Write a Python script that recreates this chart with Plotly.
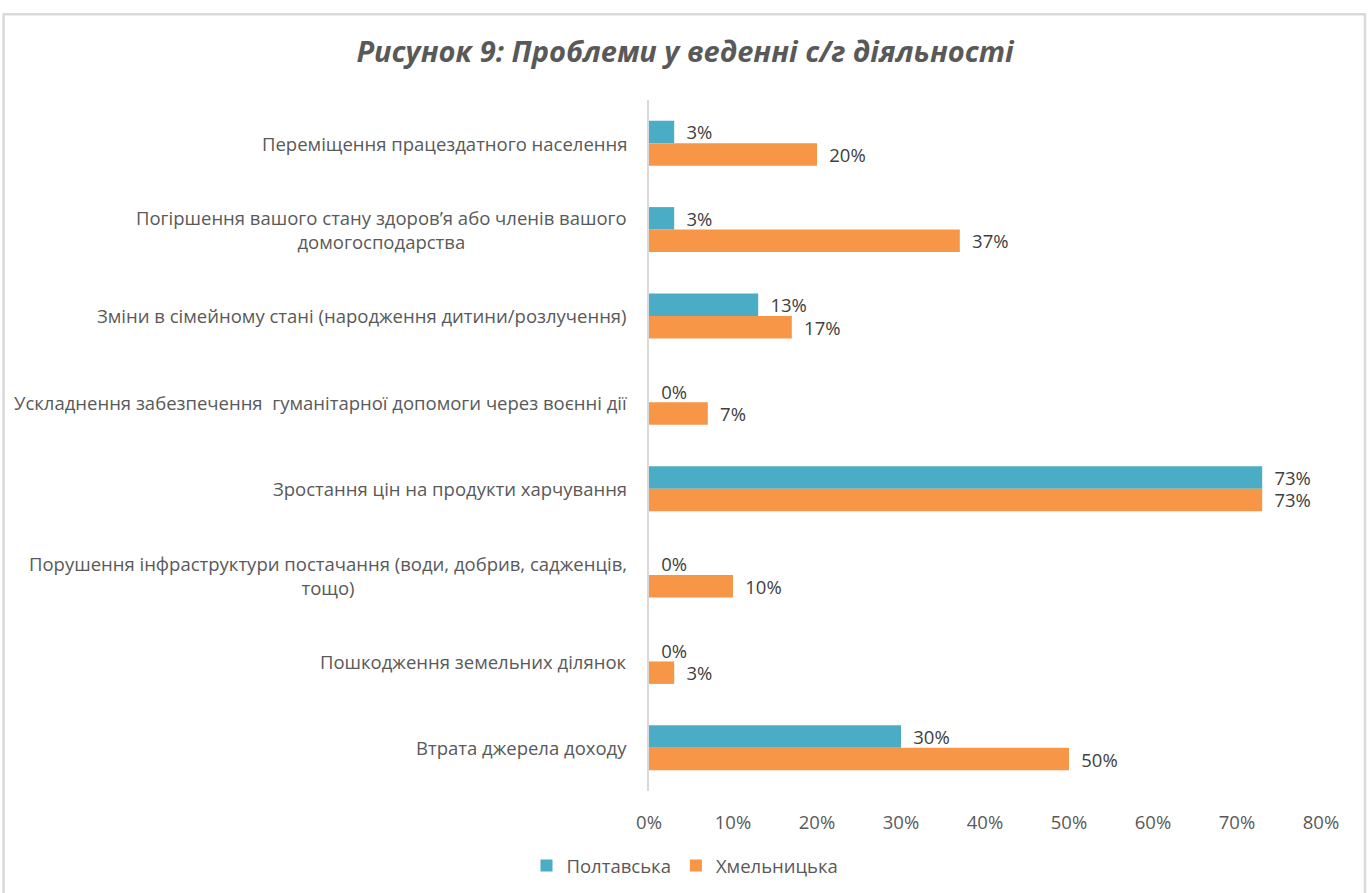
import plotly.graph_objects as go

categories = [
    "Переміщення працездатного населення",
    "Погіршення вашого стану здоров’я або членів вашого<br>домогосподарства",
    "Зміни в сімейному стані (народження дитини/розлучення)",
    "Ускладнення забезпечення  гуманітарної допомоги через воєнні дії",
    "Зростання цін на продукти харчування",
    "Порушення інфраструктури постачання (води, добрив, саджeнців,<br>тощо)",
    "Пошкодження земельних ділянок",
    "Втрата джерела доходу",
]
poltavska = [3, 3, 13, 0, 73, 0, 0, 30]
khmelnytska = [20, 37, 17, 7, 73, 10, 3, 50]
series_names = ["Полтавська", "Хмельницька"]
colors = ["#4BACC6", "#F79646"]
tick_vals = [0, 10, 20, 30, 40, 50, 60, 70, 80]
tick_text = [f"{v}%" for v in tick_vals]

FONT = "Open Sans, sans-serif"
TXT = "#595959"

W, H = 1370, 893

fig = go.Figure()
for name, vals, col in zip(series_names, [poltavska, khmelnytska], colors):
    fig.add_trace(go.Bar(
        y=categories, x=vals, name=name, orientation="h",
        marker=dict(color=col, line=dict(width=0)),
        text=[f"\u2002{v}%" for v in vals], textposition="outside",
        constraintext="none",
        textfont=dict(family=FONT, size=18.5, color="#404040"),
        cliponaxis=False,
    ))

for c in categories:
    fig.add_annotation(
        x=0, xref="paper", y=c, yref="y", text=c, showarrow=False,
        xanchor="right", yanchor="middle", align="center", xshift=-20,
        font=dict(family=FONT, size=18.5, color=TXT),
    )

# chart frame
fig.add_shape(type="rect", xref="paper", yref="paper",
              x0=-0.9605, x1=1.0655, y0=-0.16, y1=1.124,
              line=dict(color="#D9D9D9", width=2.5), fillcolor="rgba(0,0,0,0)", layer="above")

fig.update_layout(
    width=W, height=H,
    margin=dict(l=649, r=49, t=100, b=102),
    paper_bgcolor="white", plot_bgcolor="white",
    barmode="group", bargap=0.48, bargroupgap=0,
    title=dict(text="<b><i>Рисунок 9: Проблеми у веденні с/г діяльності</i></b>",
               x=0.5, xref="container", xanchor="center",
               y=(H - 52) / H, yref="container", yanchor="middle",
               font=dict(family=FONT, size=29, color=TXT)),
    xaxis=dict(range=[0, 80], tickvals=tick_vals, ticktext=tick_text,
               showgrid=False, zeroline=False, showline=False,
               ticks="", ticklabelstandoff=18,
               tickfont=dict(family=FONT, size=18.5, color=TXT)),
    yaxis=dict(autorange="reversed", showticklabels=False, showgrid=False,
               showline=True, linecolor="#D9D9D9", linewidth=2, ticks="", zeroline=False),
    legend=dict(orientation="h", xref="container", yref="container",
                x=0.5, xanchor="center", y=(H - 866) / H, yanchor="middle",
                font=dict(family=FONT, size=18.5, color=TXT), itemwidth=30,
                traceorder="normal"),
    showlegend=True,
)

fig.write_html("out.html", config={"displayModeBar": False},
               post_script="document.body.style.margin='0';")
